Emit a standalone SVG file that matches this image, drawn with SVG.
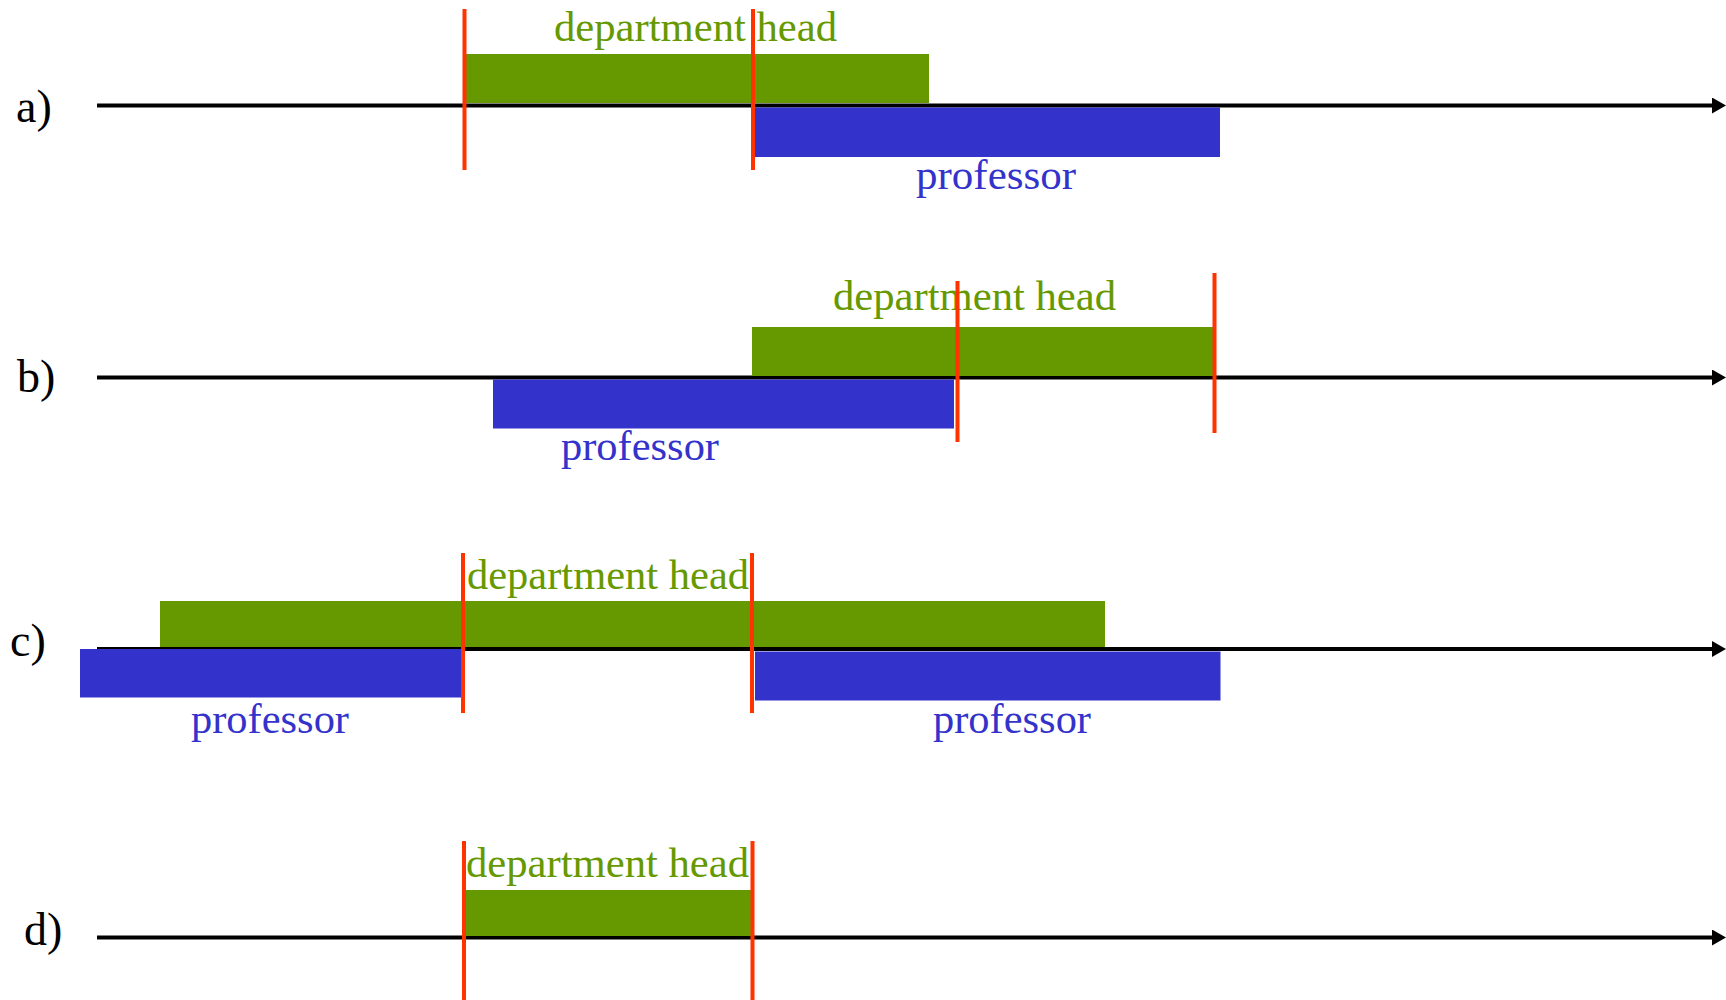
<svg xmlns="http://www.w3.org/2000/svg" width="1726" height="1000" viewBox="0 0 1726 1000">
<style>
.axis{stroke:#000;stroke-width:4;fill:none}
.mark{stroke:#FF3300;stroke-width:4}
.dh{fill:#669900}
.pr{fill:#3333CC}
.t{font-family:"Liberation Serif","Times New Roman",serif;font-size:43px}
.tdh{fill:#669900}
.tpr{fill:#3333CC}
.lab{font-family:"Liberation Serif","Times New Roman",serif;font-size:46px;fill:#000}
</style>
<defs>
<marker id="arr" markerWidth="14" markerHeight="16" refX="0" refY="8" orient="auto" markerUnits="userSpaceOnUse">
<path d="M0,0 L14,8 L0,16 z" fill="#000"/>
</marker>
</defs>
<rect width="1726" height="1000" fill="#fff"/>
<g id="connectors">
<line class="axis" x1="97" y1="105.5" x2="1712" y2="105.5" marker-end="url(#arr)"/>
<line class="axis" x1="97" y1="377.5" x2="1712" y2="377.5" marker-end="url(#arr)"/>
<line class="axis" x1="97" y1="649" x2="1712" y2="649" marker-end="url(#arr)"/>
<line class="axis" x1="97" y1="937.5" x2="1712" y2="937.5" marker-end="url(#arr)"/>
</g>
<g id="row-a">
<text class="lab" x="16" y="122">a)</text>
<rect class="dh" x="466" y="54" width="463" height="49"/>
<rect class="pr" x="755" y="107.5" width="465" height="49.5"/>
<text class="t tdh" x="554" y="41" textLength="283" lengthAdjust="spacingAndGlyphs">department head</text>
<text class="t tpr" x="916" y="189" textLength="160" lengthAdjust="spacingAndGlyphs">professor</text>
<line class="mark" x1="464.5" y1="9" x2="464.5" y2="170"/>
<line class="mark" x1="753" y1="9" x2="753" y2="170"/>
</g>
<g id="row-b">
<text class="lab" x="17" y="392">b)</text>
<rect class="dh" x="752" y="327" width="464" height="49"/>
<rect class="pr" x="493" y="379.5" width="461" height="49"/>
<text class="t tdh" x="833" y="310" textLength="283" lengthAdjust="spacingAndGlyphs">department head</text>
<text class="t tpr" x="561" y="460" textLength="158" lengthAdjust="spacingAndGlyphs">professor</text>
<line class="mark" x1="957.5" y1="281" x2="957.5" y2="442"/>
<line class="mark" x1="1214.5" y1="273" x2="1214.5" y2="433"/>
</g>
<g id="row-c">
<text class="lab" x="10" y="656">c)</text>
<rect class="dh" x="160" y="601" width="945" height="46"/>
<rect class="pr" x="80" y="649" width="384" height="48.5"/>
<rect class="pr" x="755" y="651.5" width="465.5" height="49"/>
<text class="t tdh" x="467" y="589" textLength="282" lengthAdjust="spacingAndGlyphs">department head</text>
<text class="t tpr" x="191" y="733" textLength="158" lengthAdjust="spacingAndGlyphs">professor</text>
<text class="t tpr" x="933" y="733" textLength="158" lengthAdjust="spacingAndGlyphs">professor</text>
<line class="mark" x1="463" y1="553" x2="463" y2="713"/>
<line class="mark" x1="752" y1="553" x2="752" y2="713"/>
</g>
<g id="row-d">
<text class="lab" x="24" y="945">d)</text>
<rect class="dh" x="466" y="890" width="286" height="46"/>
<text class="t tdh" x="466" y="877" textLength="283" lengthAdjust="spacingAndGlyphs">department head</text>
<line class="mark" x1="464" y1="841" x2="464" y2="1000"/>
<line class="mark" x1="752.5" y1="841" x2="752.5" y2="1000"/>
</g>
</svg>
